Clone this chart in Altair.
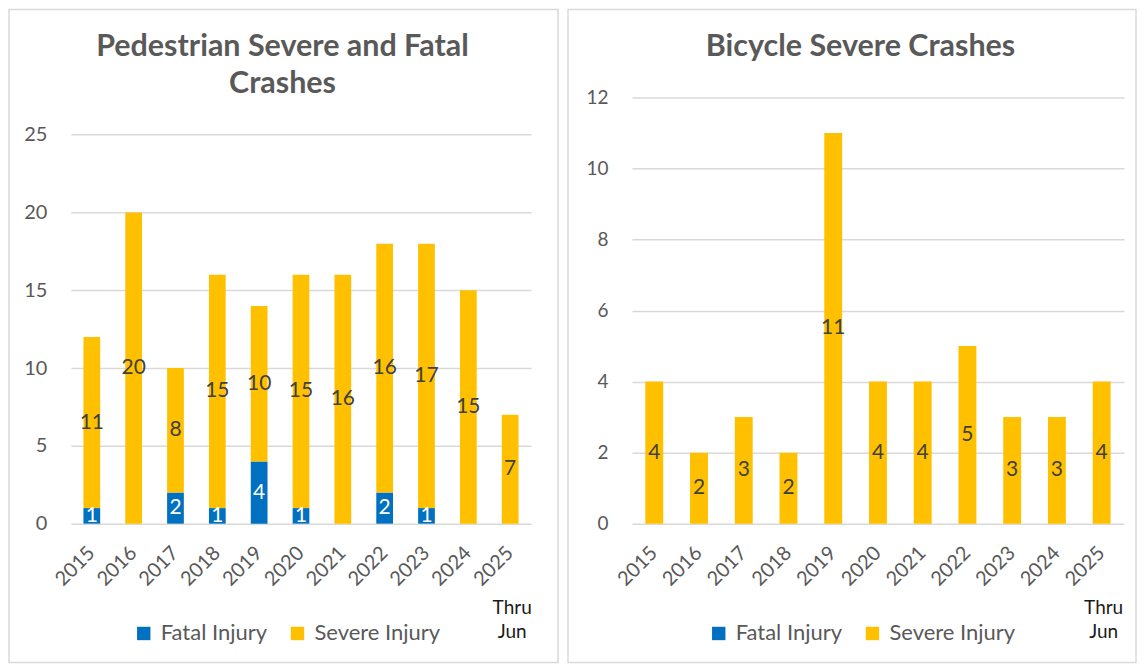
import altair as alt
import pandas as pd

years = ["2015", "2016", "2017", "2018", "2019", "2020", "2021", "2022", "2023", "2024", "2025 Thru Jun"]
series_names = ["Fatal Injury", "Severe Injury"]
series_colors = ["#0070C0", "#FFC000"]

ped_fatal = [1, 0, 2, 1, 4, 1, 0, 2, 1, 0, 0]
ped_severe = [11, 20, 8, 15, 10, 15, 16, 16, 17, 15, 7]

bike_fatal = [0, 0, 0, 0, 0, 0, 0, 0, 0, 0, 0]
bike_severe = [4, 2, 3, 2, 11, 4, 4, 5, 3, 3, 4]

ped_ticks = [0, 5, 10, 15, 20, 25]
bike_ticks = [0, 2, 4, 6, 8, 10, 12]

ped_title = "Pedestrian Severe and Fatal\nCrashes"
bike_title = "Bicycle Severe Crashes"
note_text = "Thru\nJun"

FONT = "Lato"
GRAY = "#595959"


def build_df(fatal, severe):
    rows = []
    for i, yr in enumerate(years):
        start = 0
        for s, vals in zip(series_names, [fatal, severe]):
            v = vals[i]
            rows.append({"year": yr, "series": s, "value": v, "start": start,
                         "end": start + v, "mid": start + v / 2, "order": series_names.index(s)})
            start += v
    return pd.DataFrame(rows)


def panel(fatal, severe, ymax, ticks, width, height, title, title_x, legend_x, frame, ylab_size):
    df = build_df(fatal, severe)
    xenc = alt.X("year:N", sort=years,
                 scale=alt.Scale(paddingInner=0.6, paddingOuter=0.3),
                 axis=alt.Axis(title=None, labelAngle=-45, labelAlign="right", labelBaseline="middle",
                               labelPadding=26, labelFontSize=20, labelFont=FONT, labelColor=GRAY,
                               domain=False, ticks=False, grid=False,
                               labelExpr="substring(datum.label, 0, 4)"))
    yscale = alt.Scale(domain=[0, ymax], nice=False, zero=True)
    yaxis = alt.Axis(title=None, values=ticks, domain=False, ticks=False, grid=True,
                     gridColor="#d9d9d9", gridWidth=1.5, labelFontSize=ylab_size, labelFont=FONT,
                     labelColor=GRAY, labelPadding=24)

    border = alt.Chart(pd.DataFrame({"k": [0]})).mark_rect(
        filled=False, stroke="#d9d9d9", strokeWidth=1.5
    ).encode(x=alt.value(frame[0]), x2=alt.value(frame[1]), y=alt.value(frame[2]), y2=alt.value(frame[3]))

    bars = alt.Chart(df).mark_bar().encode(
        x=xenc,
        y=alt.Y("start:Q", scale=yscale, axis=yaxis),
        y2="end:Q",
        color=alt.Color("series:N",
                        scale=alt.Scale(domain=series_names, range=series_colors),
                        legend=alt.Legend(title=None, orient="none", legendX=legend_x, legendY=526,
                                          direction="horizontal", symbolType="square", symbolSize=180,
                                          symbolStrokeWidth=0, labelFontSize=22, labelFont=FONT,
                                          labelColor=GRAY, columnPadding=19, labelOffset=6, padding=0)),
        order="order:Q",
    )

    labels = alt.Chart(df).transform_filter("datum.value > 0").mark_text(
        fontSize=21, font=FONT, baseline="middle", align="center"
    ).encode(
        x=alt.X("year:N", sort=years),
        y=alt.Y("mid:Q", scale=yscale),
        text="value:Q",
        color=alt.condition("datum.series == 'Fatal Injury'", alt.value("white"), alt.value("#404040")),
    )

    note = alt.Chart(pd.DataFrame({"year": [years[-1]], "t": [note_text]})).mark_text(
        fontSize=19, font=FONT, color="#1a1a1a", lineBreak="\n", lineHeight=25,
        baseline="alphabetic", align="center", dx=2
    ).encode(x=alt.X("year:N", sort=years), y=alt.value(height + 90), text="t:N")

    ttl = alt.Chart(pd.DataFrame({"t": [title]})).mark_text(
        fontSize=30.5, font=FONT, fontWeight="bold", color=GRAY, lineBreak="\n", lineHeight=37,
        baseline="alphabetic", align="center"
    ).encode(x=alt.value(title_x), y=alt.value(-41), text="t:N")

    return alt.layer(border, bars, labels, note, ttl).properties(width=width, height=height)


left = panel(ped_fatal, ped_severe, 25 * 427 / 389.6, ped_ticks, 461, 427, ped_title, 212, 62,
             (-62, 488, -88, 566), 20)
right = panel(bike_fatal, bike_severe, 12, bike_ticks, 493, 427, bike_title, 229, 76,
              (-64, 505, -88, 566), 19)

chart = alt.hconcat(left, right, spacing=8).resolve_scale(
    color="independent", x="independent", y="independent"
).properties(padding=0, background="white").configure_view(stroke=None)

chart.save("out.html", embed_options={"renderer": "svg", "actions": False})
